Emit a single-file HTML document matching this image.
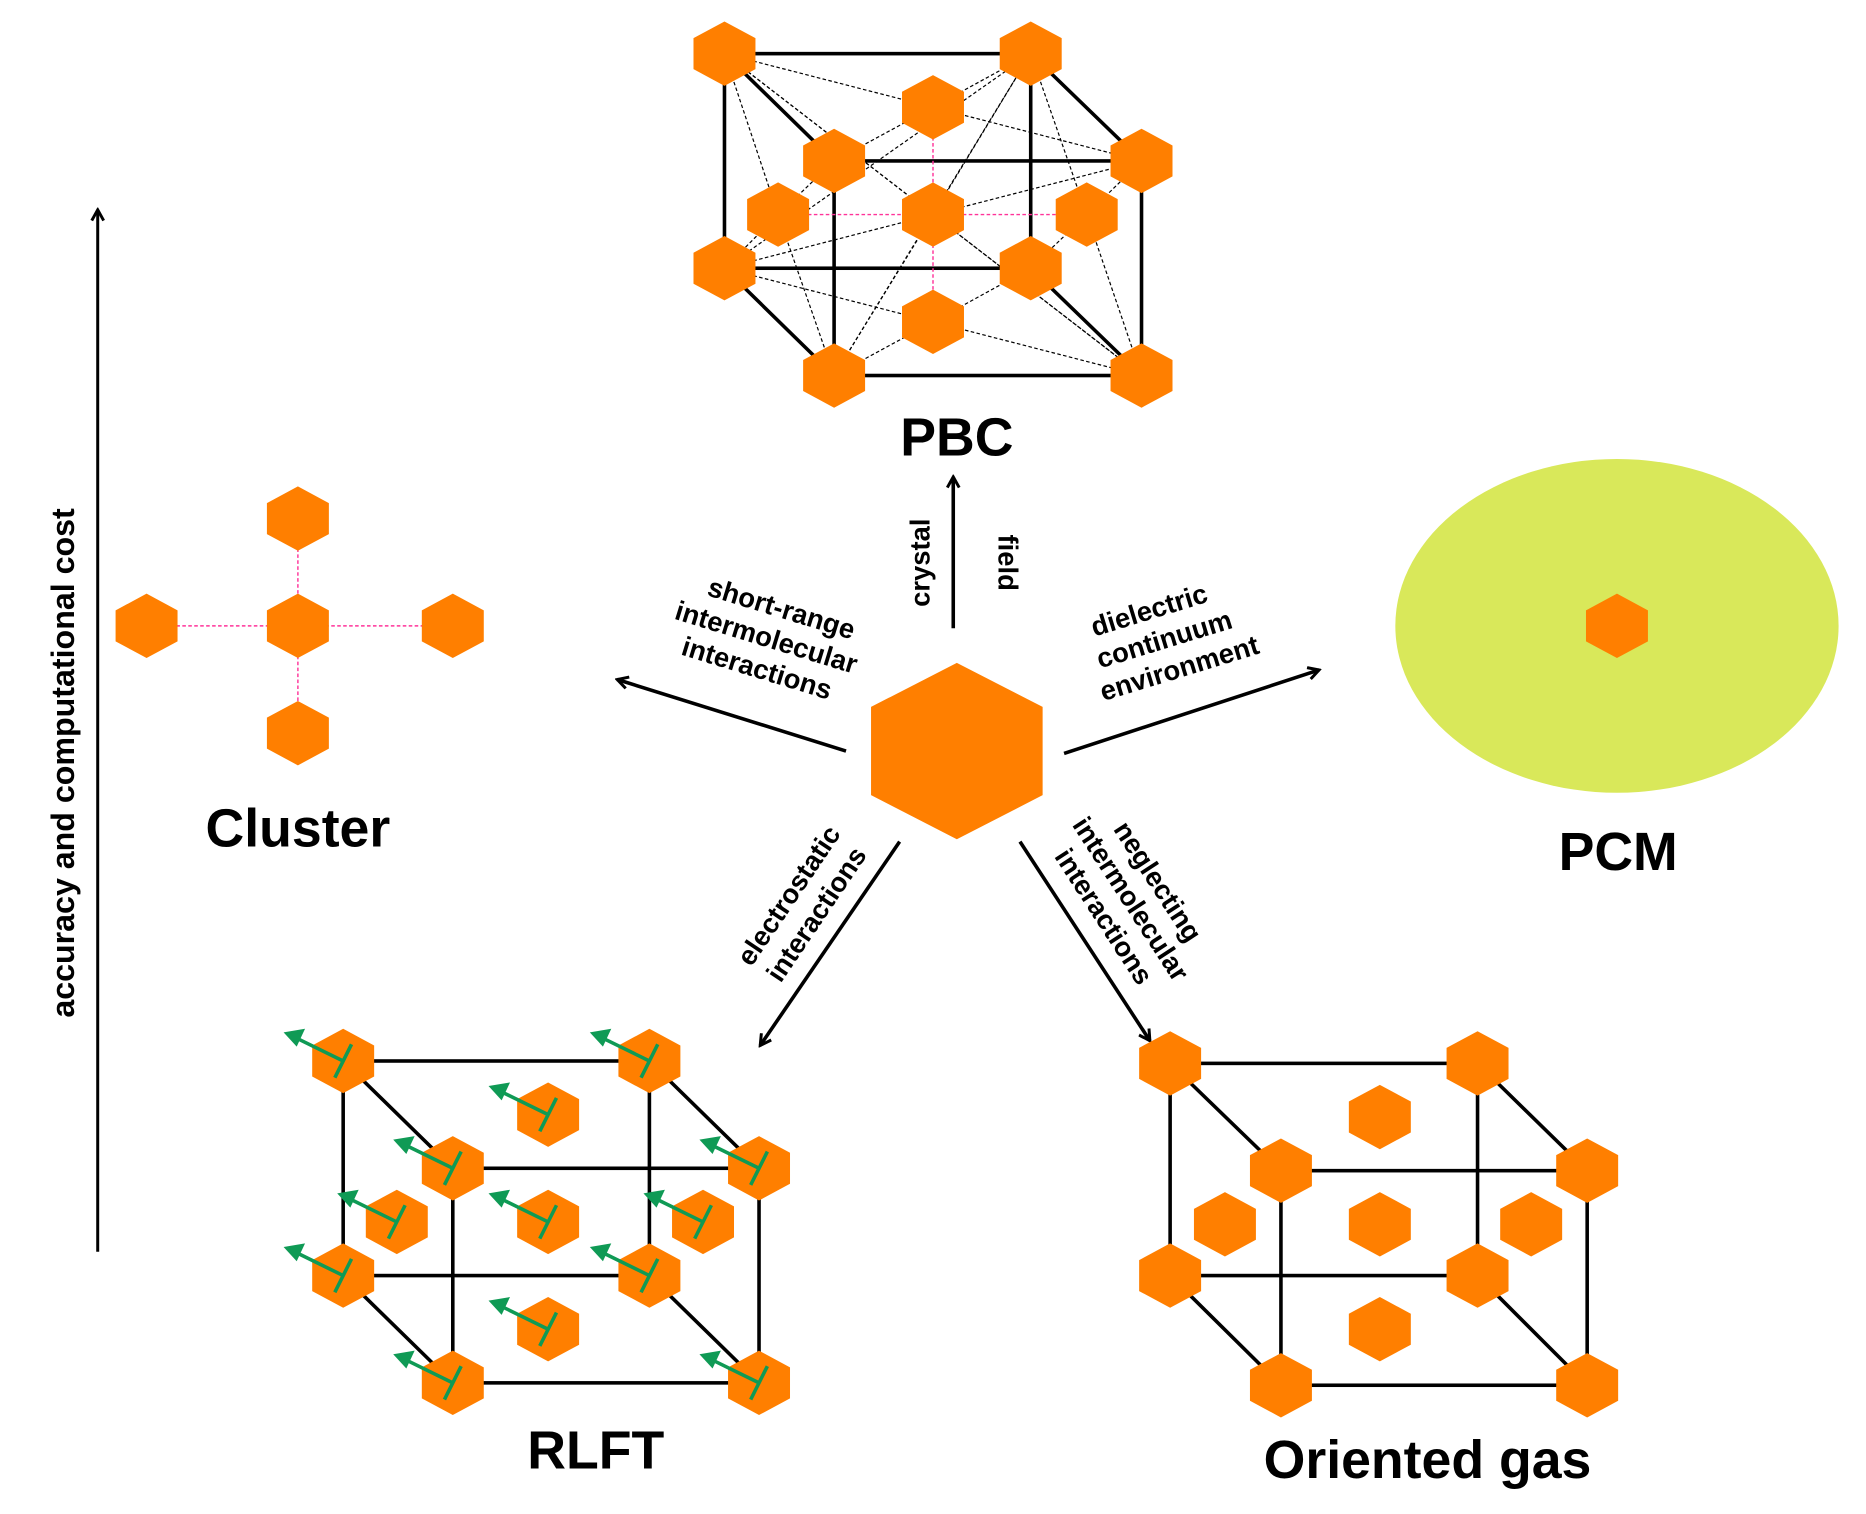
<!DOCTYPE html>
<html><head><meta charset="utf-8"><style>
html,body{margin:0;padding:0;background:#fff;}
svg{display:block;}
text{font-family:"Liberation Sans",Arial,sans-serif;font-weight:bold;fill:#000;}
</style></head><body>
<svg width="1866" height="1514" viewBox="0 0 1566 1270" preserveAspectRatio="none" xmlns="http://www.w3.org/2000/svg">
<defs>
<symbol id="h" viewBox="-26 -27 52 54" overflow="visible"><polygon points="0,-27 26,-13 26,13 0,27 -26,13 -26,-13" fill="#ff7f00"/></symbol>
<marker id="ar" markerWidth="12" markerHeight="12" refX="10" refY="6" orient="auto" markerUnits="userSpaceOnUse"><path d="M1,1 L10,6 L1,11" fill="none" stroke="#000" stroke-width="2.5"/></marker>
<g id="g">
<line x1="0" y1="0" x2="-38" y2="-18.6" stroke="#0f9a55" stroke-width="3"/>
<polygon points="-50,-24 -32,-27 -39,-12" fill="#0f9a55"/>
<line x1="7" y1="-14" x2="-7" y2="14" stroke="#0f9a55" stroke-width="3"/>
</g>
</defs>

<line x1="82" y1="1050" x2="82" y2="176" stroke="#000" stroke-width="2.5" marker-end="url(#ar)"/>
<text transform="translate(62,640) rotate(-90)" text-anchor="middle" font-size="27">accuracy and computational cost</text>

<g stroke="#000" stroke-width="3" fill="none">
<rect x="608" y="45" width="257" height="180"/>
<rect x="700" y="135" width="258" height="180"/>
<line x1="608" y1="45" x2="700" y2="135"/><line x1="865" y1="45" x2="958" y2="135"/>
<line x1="608" y1="225" x2="700" y2="315"/><line x1="865" y1="225" x2="958" y2="315"/>
</g>
<g stroke="#000" stroke-width="1" stroke-dasharray="3,2" fill="none">
<line x1="608" y1="45" x2="783" y2="90"/><line x1="865" y1="45" x2="783" y2="90"/><line x1="700" y1="135" x2="783" y2="90"/><line x1="958" y1="135" x2="783" y2="90"/>
<line x1="608" y1="45" x2="783" y2="180"/><line x1="865" y1="45" x2="783" y2="180"/><line x1="700" y1="315" x2="783" y2="180"/><line x1="958" y1="315" x2="783" y2="180"/>
<line x1="608" y1="225" x2="783" y2="270"/><line x1="865" y1="225" x2="783" y2="270"/><line x1="700" y1="315" x2="783" y2="270"/><line x1="958" y1="315" x2="783" y2="270"/>
<line x1="608" y1="45" x2="653" y2="180"/><line x1="608" y1="225" x2="653" y2="180"/><line x1="700" y1="135" x2="653" y2="180"/><line x1="700" y1="315" x2="653" y2="180"/>
<line x1="865" y1="45" x2="912" y2="180"/><line x1="865" y1="225" x2="912" y2="180"/><line x1="958" y1="135" x2="912" y2="180"/><line x1="958" y1="315" x2="912" y2="180"/>
<line x1="608" y1="225" x2="958" y2="135"/><line x1="608" y1="225" x2="865" y2="45"/><line x1="700" y1="315" x2="865" y2="45"/><line x1="608" y1="45" x2="958" y2="315"/>
</g>
<g stroke="#ff3399" stroke-width="1.2" stroke-dasharray="3,2">
<line x1="653" y1="180" x2="912" y2="180"/><line x1="783" y1="90" x2="783" y2="270"/>
</g>
<g>
<use href="#h" x="582" y="18" width="52" height="54"/><use href="#h" x="839" y="18" width="52" height="54"/>
<use href="#h" x="757" y="63" width="52" height="54"/>
<use href="#h" x="674" y="108" width="52" height="54"/><use href="#h" x="932" y="108" width="52" height="54"/>
<use href="#h" x="627" y="153" width="52" height="54"/><use href="#h" x="757" y="153" width="52" height="54"/><use href="#h" x="886" y="153" width="52" height="54"/>
<use href="#h" x="582" y="198" width="52" height="54"/><use href="#h" x="839" y="198" width="52" height="54"/>
<use href="#h" x="757" y="243" width="52" height="54"/>
<use href="#h" x="674" y="288" width="52" height="54"/><use href="#h" x="932" y="288" width="52" height="54"/>
</g>
<text x="803" y="382" text-anchor="middle" font-size="45">PBC</text>

<polygon points="803,556 875,593 875,667 803,704 731,667 731,593" fill="#ff7f00"/>
<g stroke="#000" stroke-width="3" fill="none">
<line x1="800" y1="527" x2="800" y2="400" marker-end="url(#ar)"/>
<line x1="710" y1="630" x2="518" y2="570" marker-end="url(#ar)"/>
<line x1="893" y1="632" x2="1107" y2="562" marker-end="url(#ar)"/>
<line x1="755" y1="706" x2="638" y2="877" marker-end="url(#ar)"/>
<line x1="856" y1="706" x2="965" y2="873" marker-end="url(#ar)"/>
</g>
<text transform="translate(780,472) rotate(-90)" text-anchor="middle" font-size="23">crystal</text>
<text transform="translate(838,472) rotate(90)" text-anchor="middle" font-size="23">field</text>
<g transform="translate(640,545) rotate(17)" font-size="23" text-anchor="middle">
<text x="5" y="-30">short-range</text><text x="0" y="-3">intermolecular</text><text x="0" y="24">interactions</text></g>
<g transform="translate(985,545) rotate(-17)" font-size="23" text-anchor="middle">
<text x="-10" y="-30">dielectric</text><text x="-5" y="-3">continuum</text><text x="0" y="24">environment</text></g>
<g transform="translate(675,760) rotate(-56)" font-size="23" text-anchor="middle">
<text x="0" y="-8">electrostatic</text><text x="0" y="20">interactions</text></g>
<g transform="translate(940,760) rotate(57)" font-size="23" text-anchor="middle">
<text x="0" y="-30">neglecting</text><text x="0" y="-3">intermolecular</text><text x="0" y="24">interactions</text></g>

<g stroke="#ff3399" stroke-width="1.2" stroke-dasharray="3,2">
<line x1="123" y1="525" x2="380" y2="525"/><line x1="250" y1="435" x2="250" y2="615"/></g>
<use href="#h" x="224" y="408" width="52" height="54"/><use href="#h" x="224" y="498" width="52" height="54"/><use href="#h" x="224" y="588" width="52" height="54"/>
<use href="#h" x="97" y="498" width="52" height="54"/><use href="#h" x="354" y="498" width="52" height="54"/>
<text x="250" y="710" text-anchor="middle" font-size="45">Cluster</text>

<ellipse cx="1357" cy="525" rx="186" ry="140" fill="#d9e85a"/>
<use href="#h" x="1331" y="498" width="52" height="54"/>
<text x="1358" y="730" text-anchor="middle" font-size="45">PCM</text>

<g stroke="#000" stroke-width="3" fill="none">
<rect x="288" y="890" width="257" height="180"/><rect x="380" y="980" width="257" height="180"/>
<line x1="288" y1="890" x2="380" y2="980"/><line x1="545" y1="890" x2="637" y2="980"/>
<line x1="288" y1="1070" x2="380" y2="1160"/><line x1="545" y1="1070" x2="637" y2="1160"/>
</g>
<g>
<use href="#h" x="262" y="863" width="52" height="54"/><use href="#h" x="519" y="863" width="52" height="54"/>
<use href="#h" x="354" y="953" width="52" height="54"/><use href="#h" x="611" y="953" width="52" height="54"/>
<use href="#h" x="262" y="1043" width="52" height="54"/><use href="#h" x="519" y="1043" width="52" height="54"/>
<use href="#h" x="354" y="1133" width="52" height="54"/><use href="#h" x="611" y="1133" width="52" height="54"/>
<use href="#h" x="434" y="908" width="52" height="54"/><use href="#h" x="307" y="998" width="52" height="54"/><use href="#h" x="434" y="998" width="52" height="54"/><use href="#h" x="564" y="998" width="52" height="54"/><use href="#h" x="434" y="1088" width="52" height="54"/>
</g>
<use href="#g" x="288" y="890"/><use href="#g" x="545" y="890"/><use href="#g" x="380" y="980"/><use href="#g" x="637" y="980"/>
<use href="#g" x="288" y="1070"/><use href="#g" x="545" y="1070"/><use href="#g" x="380" y="1160"/><use href="#g" x="637" y="1160"/>
<use href="#g" x="460" y="935"/><use href="#g" x="333" y="1025"/><use href="#g" x="460" y="1025"/><use href="#g" x="590" y="1025"/><use href="#g" x="460" y="1115"/>
<text x="500" y="1232" text-anchor="middle" font-size="45">RLFT</text>

<g stroke="#000" stroke-width="3" fill="none">
<rect x="982" y="892" width="258" height="178"/><rect x="1075" y="982" width="257" height="180"/>
<line x1="982" y1="892" x2="1075" y2="982"/><line x1="1240" y1="892" x2="1332" y2="982"/>
<line x1="982" y1="1070" x2="1075" y2="1162"/><line x1="1240" y1="1070" x2="1332" y2="1162"/>
</g>
<g>
<use href="#h" x="956" y="865" width="52" height="54"/><use href="#h" x="1214" y="865" width="52" height="54"/>
<use href="#h" x="1049" y="955" width="52" height="54"/><use href="#h" x="1306" y="955" width="52" height="54"/>
<use href="#h" x="956" y="1043" width="52" height="54"/><use href="#h" x="1214" y="1043" width="52" height="54"/>
<use href="#h" x="1049" y="1135" width="52" height="54"/><use href="#h" x="1306" y="1135" width="52" height="54"/>
<use href="#h" x="1132" y="910" width="52" height="54"/><use href="#h" x="1002" y="1000" width="52" height="54"/><use href="#h" x="1132" y="1000" width="52" height="54"/><use href="#h" x="1259" y="1000" width="52" height="54"/><use href="#h" x="1132" y="1088" width="52" height="54"/>
</g>
<text x="1198" y="1240" text-anchor="middle" font-size="45">Oriented gas</text>
</svg>
</body></html>
